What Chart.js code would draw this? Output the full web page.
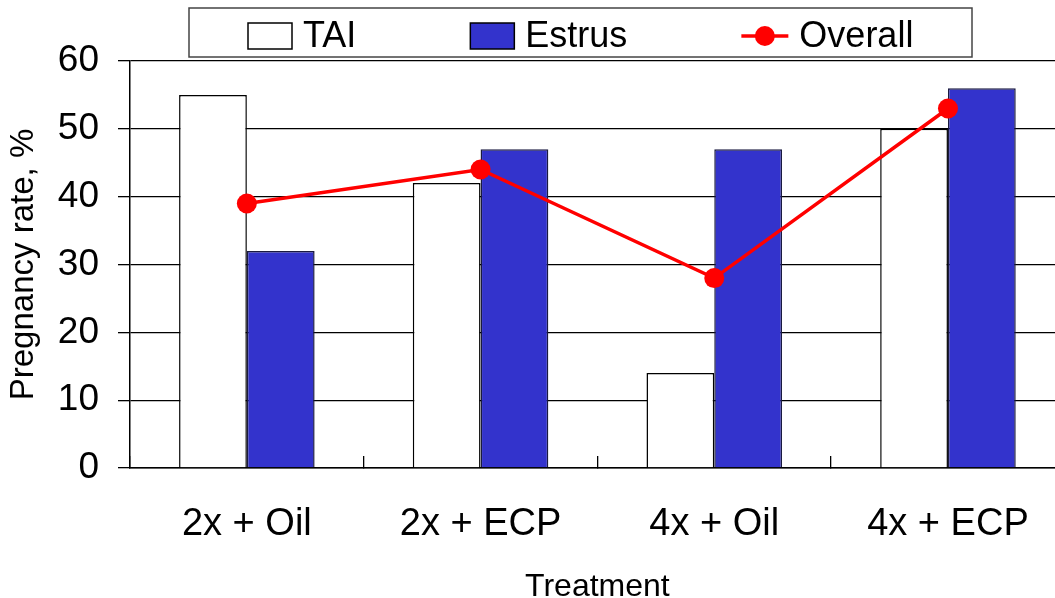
<!DOCTYPE html>
<html>
<head>
<meta charset="utf-8">
<title>Pregnancy rate by treatment</title>
<script src="https://cdn.jsdelivr.net/npm/chart.js@4/dist/chart.umd.min.js"></script>
<style>
  html, body { margin: 0; padding: 0; background: #fff; overflow: hidden; }
  canvas { display: block; }
</style>
</head>
<body>
<canvas id="chart" width="1076" height="604"></canvas>
<script>
// data
const categories = ['2x + Oil', '2x + ECP', '4x + Oil', '4x + ECP'];
const taiRates = [55, 42, 14, 50];
const estrusRates = [32, 47, 47, 56];
const overallRates = [39, 44, 28, 53];
const yTickValues = [0, 10, 20, 30, 40, 50, 60];

const FONT = "'Liberation Sans', Arial, sans-serif";

// boxed legend across the top, like the original
const boxedLegend = {
    id: 'boxedLegend',
    afterDraw(chart) {
        const ctx = chart.ctx;
        const box = { left: 189, top: 8, right: 972, bottom: 57 };
        ctx.save();
        ctx.fillStyle = '#fff';
        ctx.fillRect(box.left, box.top, box.right - box.left, box.bottom - box.top);
        ctx.strokeStyle = '#444';
        ctx.lineWidth = 1.5;
        ctx.strokeRect(box.left, box.top, box.right - box.left, box.bottom - box.top);

        ctx.font = '36px ' + FONT;
        ctx.textBaseline = 'middle';
        ctx.textAlign = 'left';

        const boxW = 44, boxH = 26, lineW = 47, gap = 11, itemGap = 114;
        const cy = 36;
        let x = 248;
        chart.data.datasets.forEach(ds => {
            const isLine = ds.type === 'line';
            const markW = isLine ? lineW : boxW;
            if (isLine) {
                ctx.strokeStyle = ds.borderColor;
                ctx.lineWidth = 3.5;
                ctx.beginPath();
                ctx.moveTo(x, cy);
                ctx.lineTo(x + markW, cy);
                ctx.stroke();
                ctx.fillStyle = ds.borderColor;
                ctx.beginPath();
                ctx.arc(x + markW / 2, cy, 10, 0, Math.PI * 2);
                ctx.fill();
            } else {
                ctx.fillStyle = ds.backgroundColor;
                ctx.fillRect(x, cy - boxH / 2, markW, boxH);
                ctx.strokeStyle = '#000';
                ctx.lineWidth = 1.5;
                ctx.strokeRect(x, cy - boxH / 2, markW, boxH);
            }
            ctx.fillStyle = '#000';
            ctx.fillText(ds.label, x + markW + gap, cy + 1);
            x += markW + gap + ctx.measureText(ds.label).width + itemGap;
        });
        ctx.restore();
    }
};

new Chart(document.getElementById('chart'), {
    type: 'bar',
    data: {
        labels: categories,
        datasets: [
            {
                label: 'TAI',
                data: taiRates,
                backgroundColor: '#ffffff',
                borderColor: '#000000',
                borderWidth: 1.5,
                categoryPercentage: 0.58,
                barPercentage: 1,
                order: 2
            },
            {
                label: 'Estrus',
                data: estrusRates,
                backgroundColor: '#3333cc',
                borderColor: '#1a1a40',
                borderWidth: 1.5,
                categoryPercentage: 0.58,
                barPercentage: 1,
                order: 2
            },
            {
                type: 'line',
                label: 'Overall',
                data: overallRates,
                borderColor: '#ff0000',
                backgroundColor: '#ff0000',
                borderWidth: 3.5,
                pointRadius: 10,
                pointBorderWidth: 0,
                pointBackgroundColor: '#ff0000',
                tension: 0,
                order: 0
            }
        ]
    },
    options: {
        responsive: false,
        animation: false,
        layout: { padding: { top: 61, left: 0, right: 0, bottom: 0 } },
        plugins: {
            legend: { display: false },
            tooltip: { enabled: false }
        },
        scales: {
            x: {
                offset: true,
                grid: {
                    offset: true,
                    drawOnChartArea: false,
                    drawTicks: true,
                    tickLength: -12,
                    color: '#000',
                    lineWidth: 1.3
                },
                border: { display: true, color: '#000', width: 1.5 },
                ticks: {
                    color: '#000',
                    font: { family: FONT, size: 38 },
                    padding: 46,
                    maxRotation: 0
                },
                title: {
                    display: true,
                    text: 'Treatment',
                    color: '#000',
                    font: { family: FONT, size: 32, lineHeight: 1 },
                    padding: { top: 0, bottom: 1 }
                },
                afterFit(scale) { scale.height = 136; }
            },
            y: {
                min: 0,
                max: 60,
                afterBuildTicks(scale) {
                    scale.ticks = yTickValues.map(v => ({ value: v }));
                },
                grid: {
                    color: '#000',
                    lineWidth: 1.3,
                    drawTicks: true,
                    tickLength: 12
                },
                border: { display: true, color: '#000', width: 1.5 },
                ticks: {
                    color: '#000',
                    font: { family: FONT, size: 37 },
                    padding: 19
                },
                title: {
                    display: true,
                    text: 'Pregnancy rate, %',
                    color: '#000',
                    font: { family: FONT, size: 33, lineHeight: 1.2 },
                    padding: { top: 4, bottom: 0 }
                },
                afterFit(scale) { scale.width = 130; }
            }
        }
    },
    plugins: [boxedLegend]
});
</script>
</body>
</html>
